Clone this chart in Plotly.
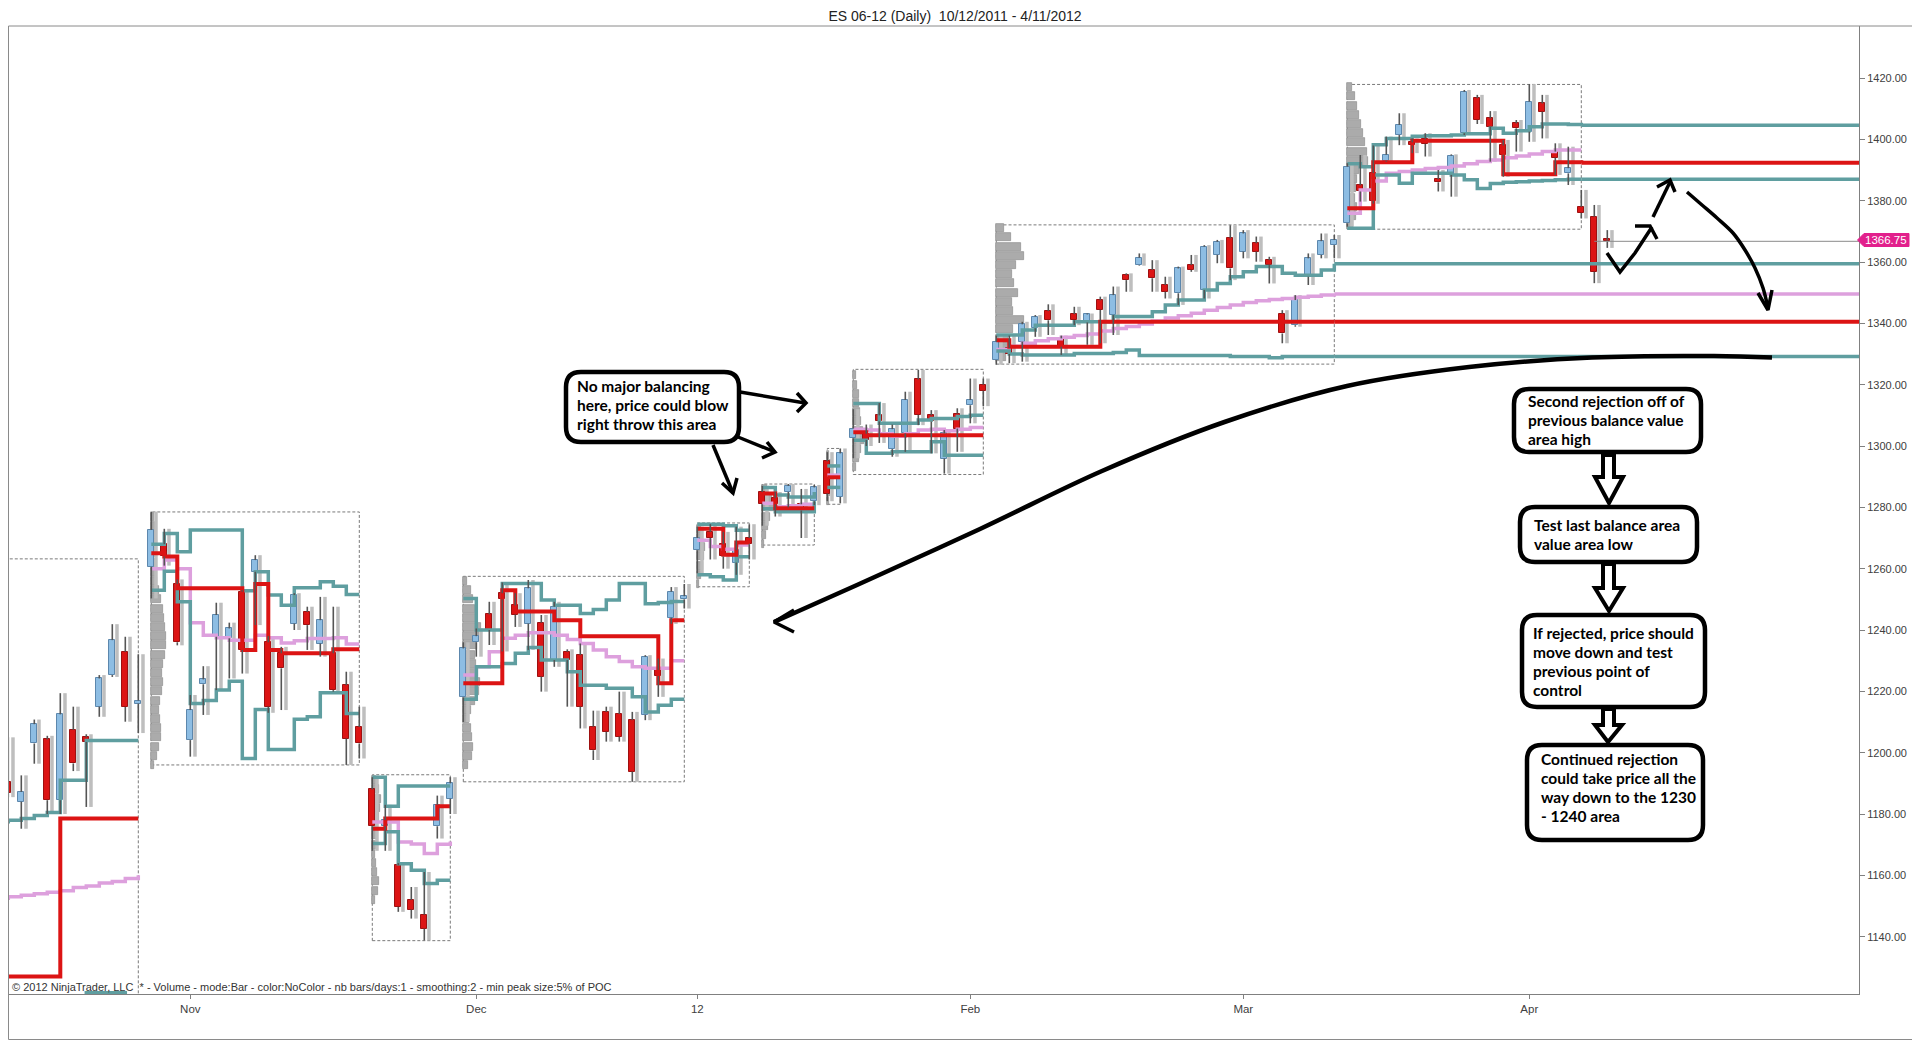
import plotly.graph_objects as go

# ES 06-12 daily bars (bar 0 = 10/12/2011)
opens = [1190.5, 1184, 1203, 1204.3, 1184.5, 1207.5, 1205, 1215, 1225.3, 1232.9,
         1216, 1260.6, 1268, 1255, 1204.1, 1222.3, 1237.8, 1237.3, 1252.5, 1259,
         1236, 1232.4, 1242.1, 1245.9, 1235.6, 1232.4, 1222, 1208.4, 1188, 1176,
         1163.3, 1152, 1147.2, 1176, 1185, 1218, 1236, 1245.1, 1252, 1248,
         1242.1, 1242.4, 1230.2, 1232.9, 1231.8, 1208.5, 1213.3, 1212.6, 1210.6, 1212.3,
         1227, 1244, 1250, 1266, 1272, 1268, 1262, 1270, 1285, 1283,
         1285, 1281, 1282, 1295, 1283.4, 1302.5, 1304, 1310, 1299, 1304.1,
         1321.7, 1310, 1295.9, 1310.6, 1313.3, 1320, 1328, 1332, 1334, 1338.4,
         1344, 1335.1, 1343, 1340.3, 1347.5, 1342.7, 1355.7, 1359, 1357.4, 1352.5,
         1349.8, 1359, 1350.9, 1362.3, 1367.7, 1363.4, 1366.1, 1360.6, 1343.2, 1339.4,
         1355.2, 1362.3, 1365.5, 1372.6, 1385, 1389, 1393, 1401.4, 1399, 1400,
         1387, 1388.4, 1402, 1413.4, 1406.8, 1398, 1405.2, 1402.5, 1411.7, 1396,
         1388.9, 1378, 1374.8, 1367]
highs = [1205, 1192.6, 1210.8, 1205.5, 1219.4, 1215, 1206, 1225.3, 1241.9, 1237.8,
         1232.1, 1278.6, 1273, 1256.5, 1218.8, 1228.2, 1248.9, 1242.4, 1253, 1264.4,
         1238, 1234.5, 1252, 1247.6, 1250.8, 1247.6, 1226.4, 1215, 1192, 1183,
         1164, 1156.2, 1161.1, 1186, 1192, 1236, 1240.5, 1249.2, 1255.5, 1252,
         1256.3, 1244.9, 1249.2, 1233.7, 1235.6, 1213.7, 1215, 1219.9, 1213.3, 1231.8,
         1230.7, 1254, 1255, 1273.7, 1274.5, 1272, 1273.7, 1274.5, 1287, 1285,
         1287.6, 1286, 1287.3, 1298, 1299.2, 1312, 1307, 1314, 1307, 1317.7,
         1324.8, 1311.7, 1305.2, 1312.3, 1322, 1322, 1336, 1336, 1340.5, 1342.7,
         1346.2, 1336, 1345.4, 1343.2, 1348.7, 1352, 1356.3, 1362.8, 1360.6, 1355.2,
         1358.5, 1362.3, 1365.5, 1367.2, 1372, 1370.4, 1368.3, 1361.7, 1344.3, 1349.2,
         1362.8, 1369.3, 1368.8, 1392.2, 1394.9, 1398, 1400.9, 1408.5, 1400.3, 1402,
         1390, 1395.1, 1416.1, 1414.5, 1409.2, 1399.8, 1406.3, 1418, 1414.5, 1398.7,
         1397.6, 1383.5, 1378.6, 1370.4]
lows = [1185.5, 1175.2, 1196.4, 1180, 1180, 1194, 1182.3, 1211.7, 1224.7, 1210.1,
        1206.4, 1250.3, 1261, 1235, 1198.7, 1212.3, 1220.4, 1224.2, 1225.8, 1241.6,
        1213, 1213.9, 1240, 1233.5, 1231.3, 1219.9, 1196, 1198.1, 1168, 1168,
        1148.1, 1145.9, 1138.8, 1172, 1180, 1210, 1231.3, 1235.1, 1233, 1241,
        1233.5, 1219.9, 1228, 1215, 1207.9, 1197.6, 1203.6, 1203.6, 1190.5, 1210.6,
        1218.2, 1242, 1247, 1258.5, 1263, 1260, 1258, 1263, 1274, 1277,
        1280, 1270, 1280.7, 1282, 1281.3, 1296, 1300, 1301, 1296.5, 1298.1,
        1306.8, 1297.6, 1291, 1298.1, 1307.4, 1313, 1326.5, 1327, 1327.5, 1335.6,
        1336.2, 1329.7, 1339.4, 1333, 1333.5, 1336.2, 1350.3, 1358.8, 1350.3, 1348.1,
        1346, 1356.8, 1348.1, 1359.6, 1354.1, 1361.2, 1360.1, 1353, 1333.5, 1338.9,
        1352.5, 1361.2, 1361.2, 1371.5, 1379.7, 1379, 1392.7, 1398.1, 1395.5, 1394.4,
        1383, 1381.3, 1401.4, 1405, 1392.7, 1387.8, 1396, 1399.2, 1400.3, 1388.4,
        1385.1, 1374.2, 1353.1, 1364.6]
closes = [1186.7, 1187.2, 1209.3, 1184.5, 1212.5, 1196.5, 1203.5, 1224.2, 1236.7, 1214.9,
          1217, 1272.6, 1264, 1236, 1213.9, 1223.9, 1244.9, 1240.5, 1233.5, 1262.8,
          1215, 1227.5, 1251.4, 1241.6, 1243.2, 1220.4, 1204.6, 1203, 1176, 1178,
          1149.7, 1148.8, 1142.6, 1183, 1190, 1234, 1238, 1240, 1250, 1245,
          1253.6, 1224.8, 1247.6, 1230.2, 1215, 1200.8, 1206.8, 1205.2, 1193.8, 1231.3,
          1225, 1252.5, 1251, 1270, 1270, 1264, 1266, 1268, 1281, 1281,
          1287, 1279, 1286.5, 1284.5, 1297.6, 1305.7, 1302, 1308, 1305.5, 1315,
          1310.1, 1308, 1304.1, 1305.7, 1315, 1318, 1334, 1330, 1339.7, 1342.2,
          1341, 1332.4, 1341, 1342.9, 1344.4, 1349.2, 1354.1, 1361.4, 1354.7, 1350.3,
          1357.9, 1357.4, 1365, 1366.6, 1357.9, 1369.3, 1363.4, 1359, 1336.7, 1347.6,
          1361.2, 1366.8, 1367.2, 1391.1, 1383, 1380, 1395, 1404.7, 1398, 1398.5,
          1386, 1394.7, 1415.5, 1406.3, 1404.1, 1395, 1403.6, 1412.3, 1409, 1394,
          1390.6, 1376, 1356.8, 1366.75]
bar_n = list(range(len(opens)))

month_ticks = [14, 36, 53, 74, 95, 117]
month_labels = ["Nov", "Dec", "12", "Feb", "Mar", "Apr"]
price_ticks = [1140, 1160, 1180, 1200, 1220, 1240, 1260, 1280, 1300, 1320, 1340, 1360, 1380, 1400, 1420]
last_price = 1366.75

# balance areas (first bar, last bar, low, high)
box_x0 = [-3, 11, 28, 35, 53, 58, 63, 65, 76, 103]
box_x1 = [10, 27, 34, 52, 57, 62, 64, 75, 102, 121]
box_lo = [1100, 1196, 1138.7, 1190.5, 1254.1, 1267.7, 1281, 1290.7, 1326.7, 1370.7]
box_hi = [1263.2, 1278.5, 1192.8, 1257.5, 1274.9, 1287.6, 1299.2, 1325, 1372.1, 1417.9]

# developing value area high / low, point of control, mid (one value per bar)
line_start = [-1, 11, 28, 35, 53, 58, 63, 65, 76, 103]
vah_a = [1177.5, 1178, 1178.5, 1179.5, 1180.5, 1191, 1191, 1204, 1204, 1204, 1204, 1204]
val_a = [1119, 1119, 1119, 1119, 1119, 1119, 1119, 1121.7, 1121.7, 1121.7, 1119, 1119]
poc_a = [1127, 1127, 1127, 1127, 1127, 1178.5, 1178.5, 1178.5, 1178.5, 1178.5, 1178.5, 1178.5]
mid_a = [1152.5, 1153, 1153.5, 1154, 1154.5, 1155, 1156, 1156.5, 1157.5, 1158, 1159, 1160]

vah_b = [1268, 1271.5, 1265.5, 1272.6, 1272.6, 1272.6, 1272.6, 1252.8, 1259, 1251.4, 1248.1,
         1253.8, 1253.8, 1255.7, 1254.3, 1251.6, 1251.6]
val_b = [1253, 1259.2, 1249.2, 1216, 1217, 1220.4, 1223.3, 1198.1, 1214.1, 1201, 1201,
         1210.9, 1211.7, 1219.5, 1219.5, 1212.8, 1212.8]
poc_b = [1265, 1264, 1253.6, 1253.6, 1253.6, 1253.6, 1253.6, 1233.5, 1255, 1233.5, 1232.4,
         1232.4, 1232.4, 1232.4, 1233.7, 1233.7, 1233.7]
mid_b = [1260, 1262.8, 1260, 1242.4, 1238.3, 1237.5, 1236.7, 1236.7, 1238.3, 1237.5, 1235.8,
         1236.5, 1237.2, 1237.2, 1237.5, 1235.4, 1235.4]

vah_c = [1192, 1182.5, 1189.1, 1189.1, 1189.1, 1189.1, 1189.1]
val_c = [1170.4, 1174.2, 1163.8, 1161.7, 1157.3, 1158.4, 1158.4]
poc_c = [1175.2, 1178.5, 1178.5, 1178.5, 1178.5, 1182.5, 1182.5]
mid_c = [1177.4, 1177.4, 1170.9, 1170.2, 1167.1, 1170.1, 1171]

vah_d = [1250.3, 1240, 1240, 1255.2, 1255.2, 1255.2, 1249.8, 1248.1, 1248.1, 1245.4, 1246.7,
         1249.8, 1255.2, 1255.2, 1248.6, 1249, 1249.3, 1249.3]
val_d = [1217.4, 1228, 1228, 1229.1, 1232.4, 1234.3, 1230.2, 1230.2, 1226.4, 1222, 1222,
         1221, 1221, 1218.2, 1213.3, 1215.5, 1217.4, 1217.4]
poc_d = [1222.6, 1222.6, 1222.6, 1253, 1246, 1246, 1246, 1243.2, 1243.2, 1238, 1238,
         1238, 1238, 1238, 1238, 1222.6, 1243.2, 1243.2]
mid_d = [1225.3, 1228, 1232.9, 1237.3, 1238.3, 1239.1, 1239.1, 1238.3, 1236.9, 1235.6, 1233.5,
         1231.3, 1229.7, 1228, 1227.5, 1227.5, 1230, 1230]

vah_e = [1274.5, 1274.5, 1274, 1272.5, 1272.5]
val_e = [1258, 1257.4, 1256.3, 1263.9, 1263.9]
poc_e = [1273, 1273, 1264.5, 1268.5, 1268.5]
mid_e = [1269.3, 1267.2, 1266.3, 1267.7, 1267.7]

vah_f = [1286.5, 1284, 1283.4, 1283.4, 1285]
val_f = [1279.5, 1278.6, 1278.6, 1278.6, 1282]
poc_f = [1284.5, 1279.7, 1279.7, 1279.7, 1279.7]
mid_f = [1281.3, 1280.2, 1280.5, 1281, 1281.3]

vah_g = [1293.5, 1293.5]
val_g = [1286.5, 1286.5]
poc_g = [1289.8, 1289.8]
mid_g = [1290.5, 1290.5]

vah_h = [1313.9, 1313.9, 1307.4, 1307.4, 1307.4, 1308.5, 1309, 1309, 1309.6, 1310, 1310]
val_h = [1301.9, 1297.6, 1297.6, 1298.1, 1298.1, 1298.1, 1301.4, 1297, 1297, 1297, 1297]
poc_h = [1304.5, 1303.5, 1303.5, 1303.5, 1303.5, 1303.5, 1303.5, 1303.5, 1303.5, 1303.5, 1303.5]
mid_h = [1305.5, 1305.2, 1304, 1303.2, 1304, 1305.2, 1305.5, 1305, 1305.5, 1306, 1306]

vah_i = [1336.2, 1336.2, 1337.8, 1339.4, 1339.4, 1339.4, 1340.5, 1340.5, 1340.5, 1342.2, 1342.2,
         1342.2, 1343.8, 1346, 1347.6, 1347.6, 1350.9, 1353, 1355.2, 1356.8, 1358.5, 1358.5,
         1356.3, 1355.7, 1355.7, 1357.4, 1359.4]
val_i = [1331, 1330, 1329.7, 1329.7, 1329.7, 1329.7, 1330.2, 1330.2, 1330.2, 1330.5, 1331.3,
         1329.5, 1329.5, 1329.5, 1329.5, 1329.5, 1329.5, 1329.5, 1329.2, 1329.2, 1329.2, 1328.8,
         1329.2, 1329.2, 1329.2, 1329.2, 1329.2]
poc_i = [1334.5, 1332.4, 1332.4, 1332.4, 1332.4, 1332.4, 1332.4, 1332.4, 1340.5, 1340.5, 1340.5,
         1340.5, 1340.5, 1340.5, 1340.5, 1340.5, 1340.5, 1340.5, 1340.5, 1340.5, 1340.5, 1340.5,
         1340.5, 1340.5, 1340.5, 1340.5, 1340.5]
mid_i = [1331.5, 1332.5, 1333.5, 1334.3, 1335, 1335.5, 1336, 1336.5, 1337.5, 1338.3, 1339,
         1339.8, 1340.8, 1341.7, 1342.5, 1343.3, 1344.3, 1345.2, 1346, 1346.8, 1347.4, 1347.8,
         1348.1, 1348.5, 1348.8, 1349.2, 1349.6]

vah_j = [1392, 1391.1, 1398.2, 1400.3, 1400.3, 1401, 1401.2, 1401.2, 1401.4, 1401.8, 1401.8,
         1403.6, 1402, 1402.8, 1404.1, 1405, 1405, 1404.8, 1404.6]
val_j = [1371, 1371, 1388.4, 1388.4, 1385.7, 1388.9, 1388.9, 1388.9, 1388.4, 1386.8, 1384,
         1385.6, 1386, 1386.2, 1386.4, 1386.6, 1386.8, 1387, 1387]
poc_j = [1377.5, 1377.5, 1392.5, 1392.5, 1392.5, 1399.5, 1399.5, 1399.5, 1399.5, 1399.5, 1399.5,
         1399.5, 1388.6, 1388.6, 1388.6, 1388.6, 1392.5, 1392.5, 1392.4]
mid_j = [1375.9, 1383.5, 1386.4, 1388.9, 1389.5, 1390, 1390.5, 1390.8, 1391.3, 1392, 1392.8,
         1393.3, 1394, 1394.6, 1395.2, 1396, 1396.5, 1396.5, 1396.5]

# balance area volume profiles (price level, volume)
prof_b_lvl = [1277, 1274, 1271, 1268, 1265, 1262, 1259, 1256, 1253, 1250, 1247, 1244, 1241, 1238,
              1235, 1232, 1229, 1226, 1223, 1220, 1217, 1214, 1211, 1208, 1205, 1202, 1199, 1196]
prof_b_vol = [3, 4, 5, 6, 6, 5, 5, 6, 8, 10, 12, 13, 14, 15, 15, 14, 12, 11, 12, 11, 9, 8, 9, 10, 10, 8, 6, 3]
prof_c_lvl = [1191, 1188, 1185, 1182, 1179, 1176, 1173, 1170, 1167, 1164, 1161, 1158, 1155, 1152]
prof_c_vol = [4, 7, 9, 8, 7, 6, 5, 4, 3, 4, 5, 7, 6, 3]
prof_d_lvl = [1256, 1253, 1250, 1247, 1244, 1241, 1238, 1235, 1232, 1229, 1226, 1223, 1220, 1217,
              1214, 1211, 1208, 1205, 1202, 1199, 1196]
prof_d_vol = [4, 8, 10, 12, 14, 18, 16, 14, 12, 13, 15, 17, 16, 12, 8, 6, 8, 9, 10, 9, 5]
prof_e_lvl = [1273, 1270, 1267, 1264, 1261, 1258, 1255]
prof_e_vol = [4, 6, 8, 7, 6, 4, 2]
prof_f_lvl = [1286, 1283, 1280, 1277, 1274, 1271, 1268]
prof_f_vol = [5, 10, 13, 8, 6, 4, 2]
prof_g_lvl = [1297, 1294, 1291, 1288, 1285, 1282]
prof_g_vol = [2, 4, 5, 5, 3, 2]
prof_h_lvl = [1323, 1320, 1317, 1314, 1311, 1308, 1305, 1302, 1299, 1296, 1293]
prof_h_vol = [3, 4, 6, 6, 7, 8, 10, 11, 8, 6, 3]
prof_i_lvl = [1371, 1368, 1365, 1362, 1359, 1356, 1353, 1350, 1347, 1344, 1341, 1338, 1335, 1332, 1329]
prof_i_vol = [8, 15, 25, 28, 20, 16, 18, 22, 16, 17, 28, 17, 12, 13, 10]
prof_j_lvl = [1417, 1414, 1411, 1408, 1405, 1402, 1399, 1396, 1393, 1390, 1387, 1384, 1381, 1378, 1375, 1372]
prof_j_vol = [5, 8, 10, 12, 14, 16, 18, 20, 21, 12, 10, 9, 8, 10, 9, 6]

bubble_lines = ["No major balancing", "here, price could blow", "right throw this area"]
flow_lines = [
    ["Second rejection off of", "previous balance value", "area high"],
    ["Test last balance area", "value area low"],
    ["If rejected, price should", "move down and test", "previous point of", "control"],
    ["Continued rejection", "could take price all the", "way down to the 1230", "- 1240 area"],
]
footer = ("\u00a9 2012 NinjaTrader, LLC \u00a0* - Volume - mode:Bar - color:NoColor - nb bars/days:1"
          " - smoothing:2 - min peak size:5% of POC")

# ---------------------------------------------------------------- layout geometry
# the page puts the figure 8 px in from the window corner; positions below are window pixels
OFF = 8
FIG_W, FIG_H = 1920 - OFF, 1040 - OFF
P_LEFT, P_RIGHT, P_TOP, P_BOT = OFF, 1859, 26, 994
XR = [(P_LEFT - 8.3) / 13, (P_RIGHT - 8.3) / 13]
YR = [1420 - (P_BOT - 78) / 3.0667, 1420 + (78 - P_TOP) / 3.0667]
VOL_PX = 13.0  # profile volume units per bar slot

TEAL = "#5F9EA0"
RED = "#DC1414"
PLUM = "#DDA0DD"
UPC = "#8DBDE3"


def dx(px):
    return XR[0] + (px - P_LEFT) / (P_RIGHT - P_LEFT) * (XR[1] - XR[0])


def dy(py):
    return YR[1] - (py - P_TOP) / (P_BOT - P_TOP) * (YR[1] - YR[0])


def fx(px):
    return (px - P_LEFT) / (P_RIGHT - P_LEFT)


def fy(py):
    return (P_BOT - py) / (P_BOT - P_TOP)


def ppath(cmds):
    out = []
    for c, pts in cmds:
        out.append(c + " ".join(f"{fx(x):.5f},{fy(y):.5f}" for x, y in pts))
    return " ".join(out)


def rrect(x0, y0, x1, y1, r):
    return ppath([("M", [(x0 + r, y0)]), ("L", [(x1 - r, y0)]), ("Q", [(x1, y0), (x1, y0 + r)]),
                  ("L", [(x1, y1 - r)]), ("Q", [(x1, y1), (x1 - r, y1)]), ("L", [(x0 + r, y1)]),
                  ("Q", [(x0, y1), (x0, y1 - r)]), ("L", [(x0, y0 + r)]),
                  ("Q", [(x0, y0), (x0 + r, y0)])]) + " Z"


fig = go.Figure()

# volume profiles of balance areas
prof_left = [11, 28, 35, 53, 58, 63, 65, 76, 103]
prof_lvls = [prof_b_lvl, prof_c_lvl, prof_d_lvl, prof_e_lvl, prof_f_lvl, prof_g_lvl, prof_h_lvl, prof_i_lvl, prof_j_lvl]
prof_vols = [prof_b_vol, prof_c_vol, prof_d_vol, prof_e_vol, prof_f_vol, prof_g_vol, prof_h_vol, prof_i_vol, prof_j_vol]
for x0, lv, vo in zip(prof_left, prof_lvls, prof_vols):
    fig.add_trace(go.Bar(orientation="h", y=lv, x=[v / VOL_PX for v in vo], base=[x0] * len(lv),
                         width=2.6, marker=dict(color="#ABABAB", line=dict(color="#8C8C8C", width=0.7)),
                         hoverinfo="skip", showlegend=False))

# candle bodies
up = [c >= o for o, c in zip(opens, closes)]
fig.add_trace(go.Bar(x=bar_n, base=[min(o, c) for o, c in zip(opens, closes)],
                     y=[max(abs(c - o), 0.7) for o, c in zip(opens, closes)], width=0.45,
                     marker=dict(color=[UPC if u else RED for u in up],
                                 line=dict(color=["#5C87AD" if u else "#9E1010" for u in up], width=1)),
                     hoverinfo="skip", showlegend=False))

# small per-bar profiles (grey haze right of each bar)
mx, my = [], []
for n, h, l in zip(bar_n, highs, lows):
    mx += [n + 0.36, n + 0.36, None]
    my += [l, h, None]
fig.add_trace(go.Scatter(x=mx, y=my, mode="lines", line=dict(color="#BEBEBE", width=3.5),
                         hoverinfo="skip", showlegend=False))

# developing lines
series = {
    "mid": ([mid_a, mid_b, mid_c, mid_d, mid_e, mid_f, mid_g, mid_h, mid_i, mid_j], PLUM, 3.5),
    "vah": ([vah_a, vah_b, vah_c, vah_d, vah_e, vah_f, vah_g, vah_h, vah_i, vah_j], TEAL, 3.5),
    "val": ([val_a, val_b, val_c, val_d, val_e, val_f, val_g, val_h, val_i, val_j], TEAL, 3.5),
    "poc": ([poc_a, poc_b, poc_c, poc_d, poc_e, poc_f, poc_g, poc_h, poc_i, poc_j], RED, 4),
}
for key, (vals, col, w) in series.items():
    for s, v in zip(line_start, vals):
        fig.add_trace(go.Scatter(x=list(range(s, s + len(v))), y=v, mode="lines", line_shape="hv",
                                 line=dict(color=col, width=w), hoverinfo="skip", showlegend=False))

# naked levels carried to the right from the last two balance areas
ext = [(102, vah_i[-1], TEAL, 3.5), (102, mid_i[-1], PLUM, 3.5), (102, poc_i[-1], RED, 4),
       (102, val_i[-1], TEAL, 3.5), (121, vah_j[-1], TEAL, 3.5), (121, poc_j[-1], RED, 4),
       (121, val_j[-1], TEAL, 3.5)]
for x0, v, col, w in ext:
    fig.add_trace(go.Scatter(x=[x0, XR[1]], y=[v, v], mode="lines", line=dict(color=col, width=w),
                             hoverinfo="skip", showlegend=False))

# wicks
wx, wy = [], []
for n, o, h, l, c in zip(bar_n, opens, highs, lows, closes):
    wx += [n, n, None, n, n, None]
    wy += [h, max(o, c), None, min(o, c), l, None]
fig.add_trace(go.Scatter(x=wx, y=wy, mode="lines", line=dict(color="#555555", width=1.6),
                         hoverinfo="skip", showlegend=False))

# last price line
fig.add_trace(go.Scatter(x=[bar_n[-2], XR[1]], y=[last_price, last_price], mode="lines",
                         line=dict(color="#8A8A8A", width=1), hoverinfo="skip", showlegend=False))

# hand drawn strokes
curves = [
    [(774, 622), (857, 585), (980, 529), (1102, 471), (1224.5, 422), (1347, 386), (1469, 367),
     (1592, 357.5), (1714, 356), (1772, 357.5)],
    [(1687, 192), (1702, 205), (1717, 218), (1733, 233), (1745, 250), (1755, 268), (1763, 288),
     (1768, 308)],
]
strokes = [
    [(740, 392), (805, 403)], [(797, 393), (806, 403), (797, 412)],
    [(738, 437), (775, 452)], [(767, 442), (775, 452), (762, 458)],
    [(713, 445), (733, 493)], [(722, 483), (733, 493), (737, 478)],
    [(794, 610), (774, 622), (794, 632)],
    [(1607, 253), (1620, 272), (1635, 253), (1652, 227)], [(1635, 226), (1650, 226), (1657, 239)],
    [(1653, 217), (1670, 182)], [(1657, 187), (1670, 180), (1675, 192)],
    [(1758, 293), (1768, 310), (1772, 290)],
]
for i, pts in enumerate(curves):
    fig.add_trace(go.Scatter(x=[dx(p[0]) for p in pts], y=[dy(p[1]) for p in pts], mode="lines",
                             line=dict(color="black", width=4.5 if i == 0 else 3.5, shape="spline"),
                             hoverinfo="skip", showlegend=False))
for pts in strokes:
    fig.add_trace(go.Scatter(x=[dx(p[0]) for p in pts], y=[dy(p[1]) for p in pts], mode="lines",
                             line=dict(color="black", width=3.5), hoverinfo="skip", showlegend=False))

shapes = []
for x0, x1, lo, hi in zip(box_x0, box_x1, box_lo, box_hi):
    shapes.append(dict(type="rect", xref="x", yref="y", x0=x0, x1=x1, y0=lo, y1=hi, layer="below",
                       line=dict(color="#7A7A7A", width=1, dash="3px,2px")))

# note boxes
bubble = (566, 372, 739, 442)
flow_boxes = [(1514, 389, 1701, 452), (1520, 507, 1697, 562), (1522, 615, 1705, 707), (1527, 745, 1703, 840)]
for b in [bubble] + flow_boxes:
    shapes.append(dict(type="path", xref="paper", yref="paper", path=rrect(*b, 15),
                       fillcolor="white", line=dict(color="black", width=4.5)))

# hollow block arrows between note boxes
block_arrows = [(1603, 1614, 455, 477, 1595, 1623, 1609, 503),
                (1603, 1614, 564, 588, 1595, 1623, 1609, 611),
                (1603, 1614, 709, 725, 1595, 1622, 1608, 742)]
for sl, sr, yt, yh, hl, hr, tx, ty in block_arrows:
    p = ppath([("M", [(sl, yt)]), ("L", [(sr, yt)]), ("L", [(sr, yh)]), ("L", [(hr, yh)]),
               ("L", [(tx, ty)]), ("L", [(hl, yh)]), ("L", [(sl, yh)])]) + " Z"
    shapes.append(dict(type="path", xref="paper", yref="paper", path=p, fillcolor="white",
                       line=dict(color="black", width=4)))

# last price tag on the axis
tag = ppath([("M", [(1857.5, 240)]), ("L", [(1864, 233.5)]), ("L", [(1909, 233.5)]),
             ("L", [(1909, 246.5)]), ("L", [(1864, 246.5)])]) + " Z"
shapes.append(dict(type="path", xref="paper", yref="paper", path=tag, fillcolor="#E2208C",
                   line=dict(color="#E2208C", width=1)))

# outer panel frame
shapes.append(dict(type="rect", xref="paper", yref="paper", x0=fx(OFF + 0.5), x1=fx(1918.5),
                   y0=fy(1039.5), y1=fy(P_TOP), line=dict(color="#8A8A8A", width=1)))

annotations = []
note_font = dict(family="Lato", size=15.5, color="black")
for i, t in enumerate(bubble_lines):
    annotations.append(dict(xref="paper", yref="paper", x=fx(575), y=fy(386 + 19 * i), text=f"<b>{t}</b>",
                            showarrow=False, xanchor="left", yanchor="middle", font=note_font))
flow_xy = [(1526, 401), (1532, 525), (1531, 633), (1539, 759)]
for (tx, ty), lines in zip(flow_xy, flow_lines):
    for i, t in enumerate(lines):
        annotations.append(dict(xref="paper", yref="paper", x=fx(tx), y=fy(ty + 19 * i), text=f"<b>{t}</b>",
                                showarrow=False, xanchor="left", yanchor="middle", font=note_font))
annotations.append(dict(xref="paper", yref="paper", x=fx(1886), y=fy(240), text=f"{last_price:.2f}",
                        showarrow=False, xanchor="center", yanchor="middle",
                        font=dict(family="Liberation Sans", size=11.5, color="white")))
annotations.append(dict(xref="paper", yref="paper", x=fx(OFF + 2), y=fy(987), text=footer, showarrow=False,
                        xanchor="left", yanchor="middle",
                        font=dict(family="Liberation Sans", size=11, color="#333333")))

fig.update_layout(
    width=FIG_W, height=FIG_H,
    margin=dict(l=0, r=FIG_W - (P_RIGHT - OFF), t=P_TOP - OFF, b=FIG_H - (P_BOT - OFF)),
    paper_bgcolor="white", plot_bgcolor="white",
    barmode="overlay", bargap=0, showlegend=False, hovermode=False,
    title=dict(text="ES 06-12 (Daily)\u00a0 10/12/2011 - 4/11/2012", x=(955 - OFF) / FIG_W, xref="container",
               y=1 - (16 - OFF) / FIG_H, yref="container", xanchor="center", yanchor="middle",
               font=dict(family="Liberation Sans", size=14, color="#222222")),
    xaxis=dict(range=XR, tickmode="array", tickvals=month_ticks, ticktext=month_labels,
               showgrid=False, zeroline=False, showline=True, linecolor="#808080", linewidth=1,
               ticks="outside", ticklen=4, tickcolor="#808080",
               tickfont=dict(family="Liberation Sans", size=11.5, color="#404040")),
    yaxis=dict(range=YR, side="right", tickmode="array", tickvals=price_ticks, tickformat=".2f",
               showgrid=False, zeroline=False, showline=True, linecolor="#808080", linewidth=1,
               ticks="outside", ticklen=5, tickcolor="#808080",
               tickfont=dict(family="Liberation Sans", size=11, color="#404040")),
    shapes=shapes, annotations=annotations,
)

fig.write_html("out.html")
